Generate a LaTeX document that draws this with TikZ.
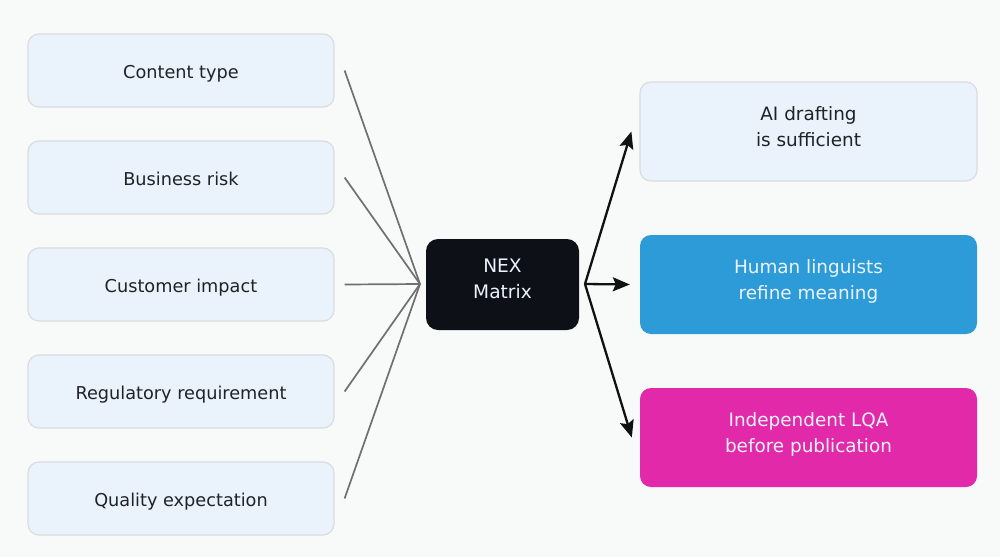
\documentclass[tikz,border=0pt]{standalone}
\usepackage{fontspec}
\setmainfont{DejaVu Sans}
\usetikzlibrary{arrows.meta}
\definecolor{bgc}{HTML}{F8F9F9}
\definecolor{lfill}{HTML}{EAF3FB}
\definecolor{lborder}{HTML}{D9DDE0}
\definecolor{txt}{HTML}{1F2328}
\definecolor{hubc}{HTML}{0D1117}
\definecolor{bluec}{HTML}{2D9BD8}
\definecolor{magc}{HTML}{E229A9}
\definecolor{linec}{HTML}{707070}
\definecolor{arrc}{HTML}{111111}
\tikzset{
  factor/.style={draw=lborder, line width=1.2pt, fill=lfill, rounded corners=11pt,
    minimum width=306pt, minimum height=73pt, text=txt, inner sep=0pt,
    text height=16pt, text depth=0pt,
    font=\fontsize{17.7}{25.5}\selectfont, align=center},
  outbox/.style={rounded corners=11pt, minimum width=337pt, minimum height=99pt,
    inner sep=0pt, text height=39pt, text depth=10pt,
    font=\fontsize{18.4}{25.5}\selectfont, align=center},
  hubbox/.style={fill=hubc, rounded corners=12pt, minimum width=153pt, minimum height=91pt,
    inner sep=0pt, text=lfill, text height=37pt, text depth=10pt,
    font=\fontsize{18.6}{26}\selectfont, align=center},
  inline/.style={draw=linec, line width=1.7pt},
  outarrow/.style={draw=arrc, line width=2.3pt, -{Stealth[length=17pt,width=14pt,inset=3pt]}}
}
\begin{document}
\begin{tikzpicture}[x=1pt,y=-1pt]
\fill[bgc] (0,0) rectangle (1000,557);
\useasboundingbox (0,0) rectangle (1000,557);
\node[factor] (f1) at (181,70.5) {Content type};
\node[factor] (f2) at (181,177.5) {Business risk};
\node[factor] (f3) at (181,284.5) {Customer impact};
\node[factor] (f4) at (181,391.5) {Regulatory requirement};
\node[factor] (f5) at (181,498.5) {Quality expectation};
\node[hubbox] (hub) at (502.5,284.5) {NEX\\Matrix};
\node[outbox, draw=lborder, line width=1.2pt, fill=lfill, text=txt] (r1) at (808.5,131.5) {AI drafting\\is sufficient};
\node[outbox, fill=bluec, text=lfill] (r2) at (808.5,284.5) {Human linguists\\refine meaning};
\node[outbox, fill=magc, text=lfill] (r3) at (808.5,437.5) {Independent LQA\\before publication};
\coordinate (inhub) at (420,284);
\coordinate (outhub) at (585,284);
\foreach \f in {f1,f2,f3,f4,f5} \draw[inline] ([xshift=10pt]\f.east) -- (inhub);
\draw[outarrow] (outhub) -- ([xshift=-8pt]r1.west);
\draw[outarrow] (outhub) -- ([xshift=-10pt]r2.west);
\draw[outarrow] (outhub) -- ([xshift=-8pt]r3.west);
\end{tikzpicture}
\end{document}
